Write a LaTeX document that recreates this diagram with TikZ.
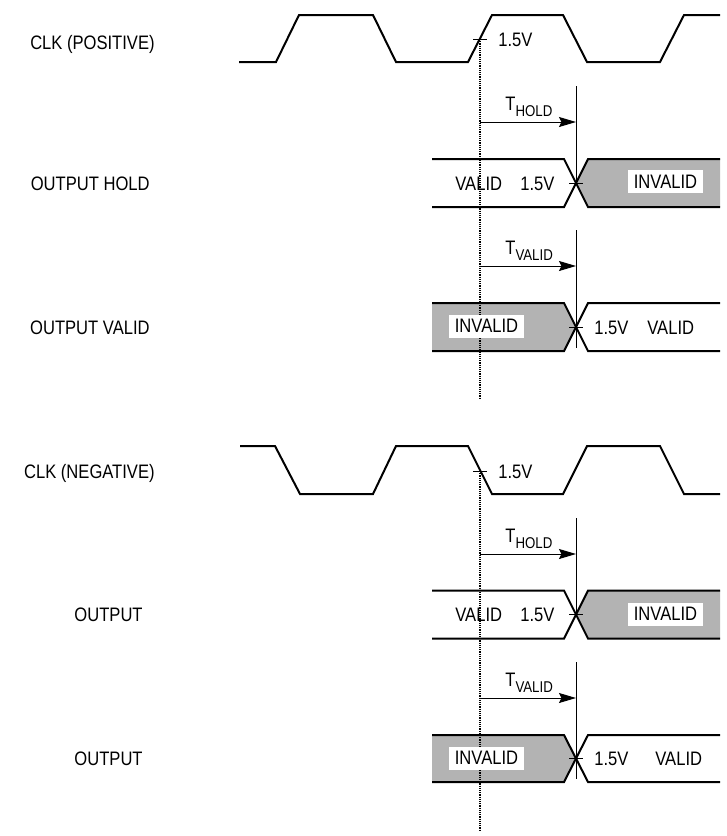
\documentclass[tikz,border=0pt]{standalone}
\usepackage{fontspec}
\setmainfont{Liberation Sans}[FakeStretch=0.85]
\usetikzlibrary{arrows.meta}
\definecolor{wavegray}{RGB}{179,179,179}
\tikzset{
  wave/.style={line width=1pt, line join=miter},
  thin line/.style={line width=0.5pt},
  guide/.style={line width=0.8pt, dash pattern=on 0.6pt off 0.5pt},
  timing/.style={line width=0.5pt, -{Stealth[length=8.5pt,width=5pt,inset=1.2pt]}},
  lbl/.style={inner sep=0pt, font=\fontsize{9.75}{11}\selectfont},
  invbox/.style={fill=white, inner sep=0pt, minimum width=37.5pt, minimum height=11.5pt, font=\fontsize{9.75}{11}\selectfont},
}
\newcommand{\tsub}[1]{T\raisebox{-3pt}{\fontsize{7.8}{9}\selectfont #1}}
\begin{document}
\begin{tikzpicture}[x=0.5pt,y=-0.5pt]
\useasboundingbox (0,0) rectangle (727,836);

% ---------- left labels ----------
\node[lbl, anchor=base east] (l1) at (155,49) {CLK (POSITIVE)};
\node[lbl, anchor=base east] (l2) at (150,190) {OUTPUT HOLD};
\node[lbl, anchor=base east] (l3) at (150,334) {OUTPUT VALID};
\node[lbl, anchor=base east] (l4) at (155,478) {CLK (NEGATIVE)};
\node[lbl, anchor=base east] (l5) at (143,621) {OUTPUT};
\node[lbl, anchor=base east] (l6) at (143,765) {OUTPUT};

% ---------- gray fills ----------
\fill[wavegray] (576,183) -- (588,159) -- (720,159) -- (720,207) -- (588,207) -- cycle;
\fill[wavegray] (432,303) -- (564,303) -- (576,327) -- (564,351) -- (432,351) -- cycle;
\fill[wavegray] (576,614.5) -- (588,590.5) -- (720,590.5) -- (720,638.5) -- (588,638.5) -- cycle;
\fill[wavegray] (432,735) -- (564,735) -- (576,758.5) -- (564,782) -- (432,782) -- cycle;

% ---------- clocks ----------
\draw[wave] (239,62) -- (276,62) -- (299,15) -- (373,15) -- (396,62) -- (468,62) -- (492,15) -- (563,15) -- (587,62) -- (660,62) -- (684,15) -- (720,15);
\draw[wave] (240,446) -- (275,446) -- (300,494) -- (373,494) -- (396,446) -- (468,446) -- (492,494) -- (563,494) -- (587,446) -- (660,446) -- (684,494) -- (720,494);

% ---------- output rows ----------
\foreach \t/\b in {159/207, 303/351, 590.5/638.5, 735/782}{
  \draw[wave] (432,\t) -- (564,\t) -- (588,\b) -- (720,\b);
  \draw[wave] (432,\b) -- (564,\b) -- (588,\t) -- (720,\t);
}

% ---------- reference coordinates ----------
\coordinate (c1) at (480,39);
\coordinate (c1e) at (480,398);
\coordinate (c2) at (480,471);
\coordinate (c2e) at (480,830);

\coordinate (x1) at (576,183);
\coordinate (x2) at (576,327);
\coordinate (x3) at (576,614.5);
\coordinate (x4) at (576,758.5);

\coordinate (v1t) at (576,86);
\coordinate (v2t) at (576,230);
\coordinate (v2b) at (576,348);
\coordinate (v3t) at (576,518);
\coordinate (v4t) at (576,662);
\coordinate (v4b) at (576,779);

\coordinate (a1s) at (480,122);  \coordinate (a1e) at (576,122);
\coordinate (a2s) at (480,266);  \coordinate (a2e) at (576,266);
\coordinate (a3s) at (480,554);  \coordinate (a3e) at (576,554);
\coordinate (a4s) at (480,698);  \coordinate (a4e) at (576,698);

% dotted guides
\draw[guide] (c1) -- (c1e);
\draw[guide] (c2) -- (c2e);

% ticks at 1.5V points
\draw[thin line] ([xshift=-3.5pt]c1) -- ([xshift=3.5pt]c1);
\draw[thin line] ([xshift=-3.5pt]c2) -- ([xshift=3.5pt]c2);
\foreach \c in {x1,x2,x3,x4}{
  \draw[thin line] ([xshift=-3.5pt]\c) -- ([xshift=3.5pt]\c);
}

% vertical lines
\draw[thin line] (v1t) -- (x1);
\draw[thin line] (v2t) -- (v2b);
\draw[thin line] (v3t) -- (x3);
\draw[thin line] (v4t) -- (v4b);

% timing arrows
\draw[timing] (a1s) -- (a1e);
\draw[timing] (a2s) -- (a2e);
\draw[timing] (a3s) -- (a3e);
\draw[timing] (a4s) -- (a4e);

% timing labels
\node[lbl, anchor=base west] (t1) at (505,110) {\tsub{HOLD}};
\node[lbl, anchor=base west] (t2) at (505,254) {\tsub{VALID}};
\node[lbl, anchor=base west] (t3) at (505,542) {\tsub{HOLD}};
\node[lbl, anchor=base west] (t4) at (505,686) {\tsub{VALID}};

% 1.5V labels on clocks
\node[lbl, anchor=base west] (v1) at (498,46) {1.5V};
\node[lbl, anchor=base west] (v2) at (498,478) {1.5V};

% row 1 texts
\node[lbl, anchor=base west] (r1a) at (455,190) {VALID};
\node[lbl, anchor=base west] (r1b) at (520,190) {1.5V};
\node[invbox] (r1c) at (665.5,181.5) {INVALID};

% row 2 texts
\node[invbox] (r2a) at (486.5,326) {INVALID};
\node[lbl, anchor=base west] (r2b) at (594,334) {1.5V};
\node[lbl, anchor=base west] (r2c) at (647,334) {VALID};

% row 3 texts
\node[lbl, anchor=base west] (r3a) at (455,621) {VALID};
\node[lbl, anchor=base west] (r3b) at (520,621) {1.5V};
\node[invbox] (r3c) at (665.5,614) {INVALID};

% row 4 texts
\node[invbox] (r4a) at (486.5,758) {INVALID};
\node[lbl, anchor=base west] (r4b) at (594,765) {1.5V};
\node[lbl, anchor=base west] (r4c) at (655,765) {VALID};
\end{tikzpicture}
\end{document}
